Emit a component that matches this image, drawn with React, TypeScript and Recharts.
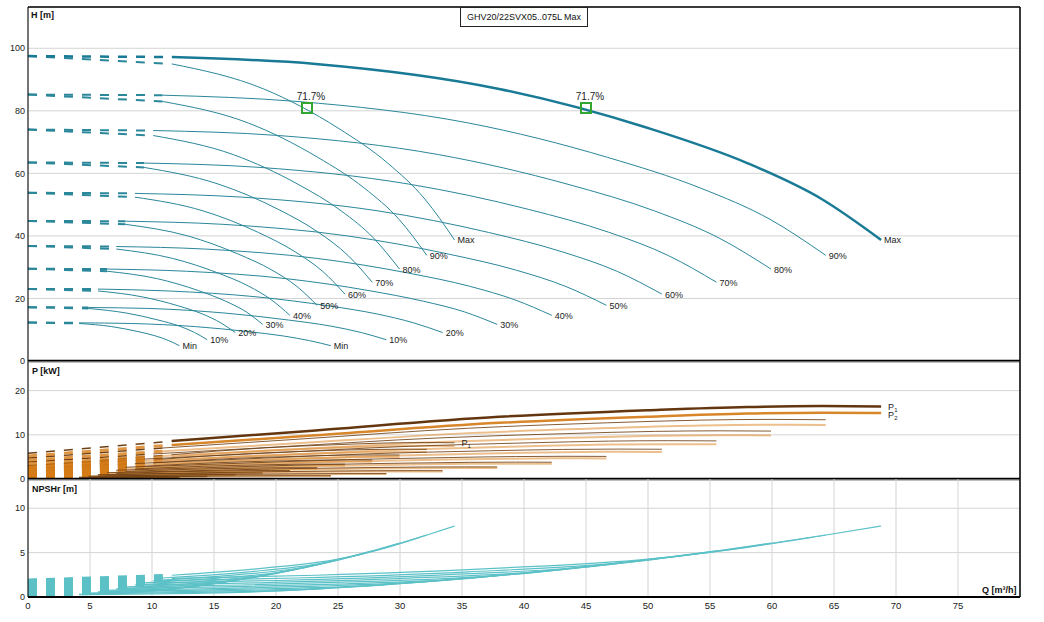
import React from 'react';
import { ComposedChart, Line, Scatter, XAxis, YAxis, CartesianGrid, ReferenceLine } from 'recharts';

// speed steps, one label per curve
const speedLabels = ['Min', '10%', '20%', '30%', '40%', '50%', '60%', '70%', '80%', '90%', 'Max'];

const qTicks = [0, 5, 10, 15, 20, 25, 30, 35, 40, 45, 50, 55, 60, 65, 70, 75];
const hTicks = [0, 20, 40, 60, 80, 100];
const pTicks = [0, 10, 20];
const nTicks = [0, 5, 10];

const dutyFlow = [22.5, 45];
const dutyHead = [80.9, 80.9];
const dutyEfficiency = ['71.7%', '71.7%'];

// one pump running: first point is Q = 0 (dashed part), second is where the solid curve starts
const flowOne = [
  [0, 4.12, 6.75, 8.88, 10.3, 11.36, 12.21],
  [0, 4.87, 7.98, 10.5, 12.18, 13.44, 14.45],
  [0, 5.64, 9.23, 12.15, 14.09, 15.55, 16.72],
  [0, 6.38, 10.45, 13.75, 15.95, 17.6, 18.92],
  [0, 7.12, 11.67, 15.35, 17.81, 19.65, 21.12],
  [0, 7.86, 12.88, 16.95, 19.66, 21.7, 23.32],
  [0, 8.62, 14.12, 18.58, 21.55, 23.78, 25.56],
  [0, 9.36, 15.33, 20.18, 23.4, 25.82, 27.76],
  [0, 10.1, 16.55, 21.78, 25.26, 27.87, 29.96],
  [0, 10.85, 17.77, 23.38, 27.12, 29.92, 32.16],
  [0, 11.6, 19, 25, 29, 32, 34.4],
];
const headOne = [
  [12.3, 12.0, 11.0, 9.4, 8.0, 6.5, 4.9],
  [17.2, 16.8, 15.3, 13.1, 11.2, 9.1, 6.8],
  [23.0, 22.4, 20.5, 17.6, 15.0, 12.2, 9.1],
  [29.5, 28.7, 26.3, 22.5, 19.1, 15.7, 11.7],
  [36.8, 35.8, 32.8, 28.1, 23.9, 19.5, 14.6],
  [44.8, 43.7, 40.0, 34.2, 29.1, 23.8, 17.8],
  [53.8, 52.4, 48.0, 41.1, 34.9, 28.6, 21.4],
  [63.5, 61.9, 56.6, 48.5, 41.2, 33.7, 25.2],
  [74.0, 72.1, 66.0, 56.5, 48.0, 39.3, 29.4],
  [85.2, 83.0, 76.1, 65.1, 55.3, 45.3, 33.8],
  [97.5, 95.0, 87.0, 74.5, 63.3, 51.8, 38.7],
];
const p1One = [
  [0.13, 0.25, 0.31, 0.35, 0.36, 0.37, 0.37],
  [0.21, 0.41, 0.52, 0.58, 0.6, 0.61, 0.61],
  [0.33, 0.63, 0.81, 0.89, 0.94, 0.95, 0.94],
  [0.48, 0.92, 1.17, 1.29, 1.36, 1.37, 1.36],
  [0.67, 1.27, 1.63, 1.8, 1.89, 1.91, 1.9],
  [0.9, 1.71, 2.19, 2.43, 2.54, 2.57, 2.56],
  [1.19, 2.26, 2.88, 3.19, 3.34, 3.38, 3.36],
  [1.52, 2.89, 3.69, 4.09, 4.28, 4.34, 4.31],
  [1.92, 3.63, 4.65, 5.14, 5.39, 5.45, 5.42],
  [2.37, 4.5, 5.75, 6.36, 6.66, 6.74, 6.7],
  [2.9, 5.5, 7.03, 7.78, 8.15, 8.25, 8.2],
];
const p2One = [
  [0.12, 0.22, 0.28, 0.32, 0.33, 0.34, 0.33],
  [0.19, 0.37, 0.47, 0.52, 0.55, 0.56, 0.55],
  [0.3, 0.57, 0.73, 0.81, 0.85, 0.86, 0.86],
  [0.43, 0.82, 1.06, 1.17, 1.23, 1.25, 1.24],
  [0.6, 1.15, 1.47, 1.63, 1.71, 1.74, 1.73],
  [0.81, 1.54, 1.98, 2.2, 2.31, 2.34, 2.33],
  [1.07, 2.03, 2.6, 2.89, 3.04, 3.08, 3.06],
  [1.37, 2.6, 3.34, 3.71, 3.89, 3.94, 3.92],
  [1.72, 3.27, 4.2, 4.66, 4.89, 4.96, 4.93],
  [2.13, 4.05, 5.19, 5.76, 6.05, 6.13, 6.1],
  [2.6, 4.95, 6.35, 7.05, 7.4, 7.5, 7.46],
];
const npshOne = [
  [0.24, 0.31, 0.41, 0.54, 0.71, 0.87, 1.01],
  [0.34, 0.43, 0.57, 0.75, 0.99, 1.22, 1.41],
  [0.45, 0.58, 0.77, 1.01, 1.32, 1.63, 1.89],
  [0.57, 0.74, 0.98, 1.29, 1.69, 2.09, 2.42],
  [0.72, 0.92, 1.23, 1.61, 2.11, 2.6, 3.02],
  [0.87, 1.13, 1.49, 1.96, 2.57, 3.17, 3.68],
  [1.05, 1.35, 1.79, 2.36, 3.09, 3.81, 4.42],
  [1.24, 1.6, 2.12, 2.78, 3.65, 4.49, 5.21],
  [1.44, 1.86, 2.47, 3.24, 4.25, 5.23, 6.07],
  [1.66, 2.14, 2.84, 3.73, 4.9, 6.03, 6.99],
  [1.9, 2.45, 3.25, 4.27, 5.6, 6.9, 8.0],
];

// two pumps running
const flowTwo = [
  [0, 4.12, 8.24, 13.49, 17.75, 20.59, 22.72, 24.42],
  [0, 4.87, 9.74, 15.96, 21.0, 24.36, 26.88, 28.9],
  [0, 5.64, 11.28, 18.47, 24.3, 28.19, 31.1, 33.44],
  [0, 6.38, 12.76, 20.9, 27.5, 31.9, 35.2, 37.84],
  [0, 7.12, 14.24, 23.33, 30.7, 35.61, 39.3, 42.24],
  [0, 7.86, 15.73, 25.76, 33.9, 39.32, 43.39, 46.65],
  [0, 8.62, 17.24, 28.23, 37.15, 43.09, 47.55, 51.12],
  [0, 9.36, 18.72, 30.67, 40.35, 46.81, 51.65, 55.52],
  [0, 10.1, 20.21, 33.1, 43.55, 50.52, 55.74, 59.92],
  [0, 10.85, 21.69, 35.53, 46.75, 54.23, 59.84, 64.33],
  [0, 11.6, 23.2, 38, 50, 58, 64, 68.8],
];
const headTwo = [
  [12.3, 12.2, 12.0, 11.0, 9.4, 8.0, 6.5, 4.9],
  [17.2, 17.1, 16.8, 15.3, 13.1, 11.2, 9.1, 6.8],
  [23.0, 23.0, 22.4, 20.5, 17.6, 15.0, 12.2, 9.1],
  [29.5, 29.4, 28.7, 26.3, 22.5, 19.1, 15.7, 11.7],
  [36.8, 36.6, 35.8, 32.8, 28.1, 23.9, 19.5, 14.6],
  [44.8, 44.7, 43.7, 40.0, 34.2, 29.1, 23.8, 17.8],
  [53.8, 53.6, 52.4, 48.0, 41.1, 34.9, 28.6, 21.4],
  [63.5, 63.3, 61.9, 56.6, 48.5, 41.2, 33.7, 25.2],
  [74.0, 73.7, 72.1, 66.0, 56.5, 48.0, 39.3, 29.4],
  [85.2, 85.0, 83.0, 76.1, 65.1, 55.3, 45.3, 33.8],
  [97.5, 97.2, 95.0, 87.0, 74.5, 63.3, 51.8, 38.7],
];
const p1Two = [
  [0.26, 0.38, 0.49, 0.63, 0.7, 0.73, 0.74, 0.73],
  [0.43, 0.64, 0.82, 1.04, 1.15, 1.21, 1.22, 1.22],
  [0.67, 0.98, 1.26, 1.61, 1.79, 1.87, 1.89, 1.88],
  [0.97, 1.43, 1.83, 2.34, 2.59, 2.71, 2.75, 2.73],
  [1.34, 1.99, 2.55, 3.25, 3.6, 3.77, 3.82, 3.8],
  [1.81, 2.67, 3.43, 4.38, 4.85, 5.08, 5.14, 5.11],
  [2.38, 3.52, 4.51, 5.77, 6.38, 6.69, 6.77, 6.73],
  [3.05, 4.51, 5.78, 7.39, 8.18, 8.57, 8.67, 8.62],
  [3.83, 5.67, 7.27, 9.29, 10.28, 10.77, 10.9, 10.84],
  [4.74, 7.01, 8.99, 11.49, 12.72, 13.32, 13.49, 13.41],
  [5.8, 8.58, 11.0, 14.06, 15.56, 16.3, 16.5, 16.4],
];
const p2Two = [
  [0.23, 0.34, 0.44, 0.57, 0.63, 0.66, 0.67, 0.67],
  [0.39, 0.57, 0.73, 0.94, 1.04, 1.1, 1.11, 1.11],
  [0.6, 0.88, 1.14, 1.46, 1.62, 1.7, 1.72, 1.71],
  [0.87, 1.28, 1.65, 2.11, 2.35, 2.46, 2.5, 2.48],
  [1.2, 1.78, 2.29, 2.94, 3.26, 3.43, 3.47, 3.45],
  [1.62, 2.4, 3.09, 3.96, 4.39, 4.61, 4.68, 4.65],
  [2.13, 3.16, 4.06, 5.21, 5.78, 6.07, 6.15, 6.12],
  [2.73, 4.05, 5.2, 6.68, 7.41, 7.78, 7.88, 7.84],
  [3.44, 5.09, 6.54, 8.39, 9.32, 9.78, 9.91, 9.86],
  [4.25, 6.29, 8.09, 10.38, 11.53, 12.1, 12.26, 12.2],
  [5.2, 7.7, 9.9, 12.7, 14.1, 14.8, 15.0, 14.92],
];
const npshTwo = [
  [0.24, 0.26, 0.31, 0.41, 0.54, 0.71, 0.87, 1.01],
  [0.34, 0.37, 0.43, 0.57, 0.75, 0.99, 1.22, 1.41],
  [0.45, 0.5, 0.58, 0.77, 1.01, 1.32, 1.63, 1.89],
  [0.57, 0.64, 0.74, 0.98, 1.29, 1.69, 2.09, 2.42],
  [0.72, 0.79, 0.92, 1.23, 1.61, 2.11, 2.6, 3.02],
  [0.87, 0.97, 1.13, 1.49, 1.96, 2.57, 3.17, 3.68],
  [1.05, 1.16, 1.35, 1.79, 2.36, 3.09, 3.81, 4.42],
  [1.24, 1.37, 1.6, 2.12, 2.78, 3.65, 4.49, 5.21],
  [1.44, 1.59, 1.86, 2.47, 3.24, 4.25, 5.23, 6.07],
  [1.66, 1.84, 2.14, 2.84, 3.73, 4.9, 6.03, 6.99],
  [1.9, 2.1, 2.45, 3.25, 4.27, 5.6, 6.9, 8.0],
];

const FONT = '"Liberation Sans", Arial, Helvetica, sans-serif';
const W = 1044;
const Q_DOMAIN: [number, number] = [0, 80];
const H_TOP = 113.2;
const P_TOP = 26.7;
const N_TOP = 13.3;

type Pt = { q: number; v: number; name?: string };

const pts = (qs: number[], vs: number[], from: number, to: number): Pt[] =>
  qs.slice(from, to).map((q, j) => ({ q, v: vs[from + j] }));

interface CurveStyle {
  color: string;
  width: number;
  opacity?: number;
}

type Part = 'dash' | 'solid';

// one Line per curve, either the dashed start (Q = 0 to min flow) or the solid rest
function curveSet(id: string, part: Part, flows: number[][], values: number[][], st: CurveStyle, maxSt?: CurveStyle) {
  return flows.map((qs, i) => {
    const s = maxSt && i === flows.length - 1 ? maxSt : st;
    const dashed = part === 'dash';
    return (
      <Line
        key={`${id}-${part}-${i}`}
        data={dashed ? pts(qs, values[i], 0, 2) : pts(qs, values[i], 1, qs.length)}
        dataKey="v"
        type={dashed ? 'linear' : 'monotone'}
        stroke={s.color}
        strokeWidth={s.width}
        strokeOpacity={s.opacity ?? 1}
        strokeDasharray={dashed ? '9 9' : undefined}
        dot={false}
        activeDot={false}
        isAnimationActive={false}
      />
    );
  });
}

const endPoints = (flows: number[][], values: number[][]): Pt[] =>
  speedLabels.map((name, i) => {
    const n = flows[i].length - 1;
    return { q: flows[i][n], v: values[i][n], name };
  });

const EndLabel = (p: any) => (
  <text x={p.cx + 3} y={p.cy + 3.5} fontSize={9} fill="#222" fontFamily={FONT}>
    {p.payload.name}
  </text>
);

const PowerLabel = (p: any) => (
  <text x={p.cx + 7} y={p.cy + (p.payload.name === '2' ? 5 : 3)} fontSize={9} fill="#222" fontFamily={FONT}>
    P
    <tspan fontSize={6} dy={2}>
      {p.payload.name}
    </tspan>
  </text>
);

const DutyMarker = (p: any) => (
  <g>
    <rect x={p.cx - 5} y={p.cy - 5} width={10} height={10} fill="none" stroke="#33a533" strokeWidth={2} />
    <text x={p.cx + 4} y={p.cy - 8} textAnchor="middle" fontSize={10} fill="#222" fontFamily={FONT}>
      {p.payload.name}
    </text>
  </g>
);

const headStyle: CurveStyle = { color: '#2b879a', width: 1 };
const headMaxStyle: CurveStyle = { color: '#197a96', width: 2.5 };
const headDash: CurveStyle = { color: '#2b879a', width: 2 };
const headMaxDash: CurveStyle = { color: '#197a96', width: 2.5 };
const p1Style: CurveStyle = { color: '#6e4014', width: 1, opacity: 0.85 };
const p1MaxStyle: CurveStyle = { color: '#633610', width: 2.5 };
const p1Dash: CurveStyle = { color: '#6e4014', width: 1.5 };
const p2Style: CurveStyle = { color: '#dc8a30', width: 2, opacity: 0.55 };
const p2MaxStyle: CurveStyle = { color: '#d8862a', width: 2.5 };
const p2Dash: CurveStyle = { color: '#d67c16', width: 3, opacity: 0.8 };
const npshStyle: CurveStyle = { color: '#5cc1c7', width: 1.2 };
const npshDash: CurveStyle = { color: '#5cc1c7', width: 3 };

const tickStyle = { fontSize: 9, fill: '#222', fontFamily: FONT };
const titleStyle: React.CSSProperties = {
  position: 'absolute',
  fontSize: 9,
  lineHeight: '10px',
  fontWeight: 'bold',
  color: '#111',
  whiteSpace: 'nowrap',
};

const dutyPoints: Pt[] = dutyFlow.map((q, i) => ({ q, v: dutyHead[i], name: dutyEfficiency[i] }));
const powerLabels: Pt[] = [
  { q: flowTwo[10][7], v: p1Two[10][7], name: '1' },
  { q: flowTwo[10][7], v: p2Two[10][7], name: '2' },
  { q: flowOne[10][6], v: p1One[10][6], name: '1' },
];

export default function App() {
  const grid = <CartesianGrid stroke="#d4d4d4" />;
  const hiddenX = (
    <XAxis type="number" dataKey="q" domain={Q_DOMAIN} ticks={qTicks} height={0} tick={false} axisLine={false} tickLine={false} allowDataOverflow />
  );
  const yAxis = (domainTop: number, ticks: number[]) => (
    <YAxis
      type="number"
      dataKey="v"
      domain={[0, domainTop]}
      ticks={ticks}
      interval={0}
      width={28}
      tickLine={false}
      tickSize={3}
      tickMargin={0}
      axisLine={{ stroke: '#000' }}
      tick={tickStyle}
      allowDataOverflow
    />
  );

  return (
    <div style={{ position: 'absolute', left: 0, top: 0, width: W, height: 622, background: '#fff', fontFamily: FONT }}>
      {/* head */}
      <div style={{ position: 'absolute', left: 0, top: 0 }}>
        <ComposedChart width={W} height={367} margin={{ top: 7, right: 24, bottom: 6, left: 0 }}>
          {grid}
          {hiddenX}
          {yAxis(H_TOP, hTicks)}
          {curveSet('h1', 'dash', flowOne, headOne, headDash)}
          {curveSet('h2', 'dash', flowTwo, headTwo, headDash, headMaxDash)}
          {curveSet('h1', 'solid', flowOne, headOne, headStyle)}
          {curveSet('h2', 'solid', flowTwo, headTwo, headStyle, headMaxStyle)}
          <Scatter data={endPoints(flowOne, headOne)} dataKey="v" shape={EndLabel} isAnimationActive={false} />
          <Scatter data={endPoints(flowTwo, headTwo)} dataKey="v" shape={EndLabel} isAnimationActive={false} />
          <Scatter data={dutyPoints} dataKey="v" shape={DutyMarker} isAnimationActive={false} />
          <ReferenceLine y={H_TOP} stroke="#000" strokeWidth={1.5} />
          <ReferenceLine x={80} stroke="#000" strokeWidth={1.5} />
          <ReferenceLine y={0} stroke="#000" strokeWidth={2.5} />
        </ComposedChart>
      </div>

      {/* power */}
      <div style={{ position: 'absolute', left: 0, top: 361 }}>
        <ComposedChart width={W} height={124} margin={{ top: 0, right: 24, bottom: 6, left: 0 }}>
          {grid}
          {hiddenX}
          {yAxis(P_TOP, pTicks)}
          {curveSet('p1a', 'dash', flowOne, p1One, p1Dash)}
          {curveSet('p1b', 'dash', flowTwo, p1Two, p1Dash)}
          {curveSet('p2a', 'dash', flowOne, p2One, p2Dash)}
          {curveSet('p2b', 'dash', flowTwo, p2Two, p2Dash)}
          {curveSet('p2a', 'solid', flowOne, p2One, p2Style)}
          {curveSet('p2b', 'solid', flowTwo, p2Two, p2Style, p2MaxStyle)}
          {curveSet('p1a', 'solid', flowOne, p1One, p1Style)}
          {curveSet('p1b', 'solid', flowTwo, p1Two, p1Style, p1MaxStyle)}
          <Scatter data={powerLabels} dataKey="v" shape={PowerLabel} isAnimationActive={false} />
          <ReferenceLine x={80} stroke="#000" strokeWidth={1.5} />
          <ReferenceLine y={0} stroke="#000" strokeWidth={2.5} />
        </ComposedChart>
      </div>

      {/* NPSH */}
      <div style={{ position: 'absolute', left: 0, top: 479 }}>
        <ComposedChart width={W} height={143} margin={{ top: 0, right: 24, bottom: 0, left: 0 }}>
          {grid}
          <XAxis
            type="number"
            dataKey="q"
            domain={Q_DOMAIN}
            ticks={qTicks}
            interval={0}
            height={25}
            tickLine={false}
            tickSize={3}
            tickMargin={2}
            axisLine={{ stroke: '#000', strokeWidth: 2 }}
            tick={{ ...tickStyle, fontSize: 9.5 }}
            allowDataOverflow
          />
          {yAxis(N_TOP, nTicks)}
          {curveSet('n1', 'dash', flowOne, npshOne, npshDash)}
          {curveSet('n2', 'dash', flowTwo, npshTwo, npshDash)}
          {curveSet('n1', 'solid', flowOne, npshOne, npshStyle)}
          {curveSet('n2', 'solid', flowTwo, npshTwo, npshStyle)}
          <ReferenceLine x={80} stroke="#000" strokeWidth={1.5} />
        </ComposedChart>
      </div>

      <div
        style={{
          position: 'absolute',
          left: 460,
          top: 7,
          width: 126,
          height: 18,
          border: '1px solid #222',
          background: '#fff',
          fontSize: 9,
          lineHeight: '18px',
          textAlign: 'center',
          color: '#111',
        }}
      >
        GHV20/22SVX05..075L Max
      </div>
      <div style={{ ...titleStyle, left: 31, top: 10 }}>H [m]</div>
      <div style={{ ...titleStyle, left: 32, top: 366 }}>P [kW]</div>
      <div style={{ ...titleStyle, left: 32, top: 484 }}>NPSHr [m]</div>
      <div style={{ ...titleStyle, left: 982, top: 585 }}>Q [m³/h]</div>
    </div>
  );
}
